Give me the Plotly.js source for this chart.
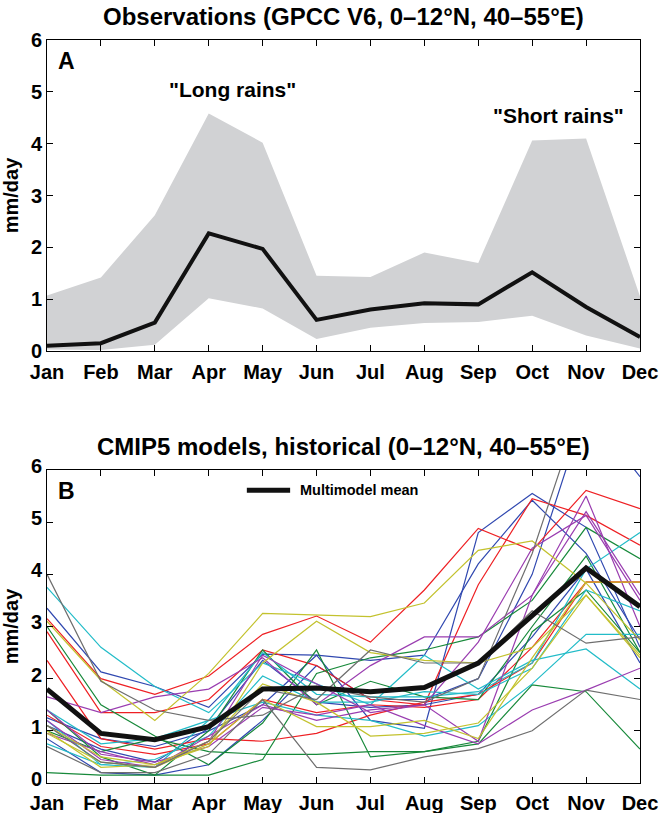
<!DOCTYPE html>
<html>
<head>
<meta charset="utf-8">
<script src="https://cdn.plot.ly/plotly-3.0.1.min.js"></script>
<style>
  html, body { margin: 0; padding: 0; background: #fff; }
  #chart { width: 660px; height: 813px; }
</style>
</head>
<body>
<div id="chart"></div>
<script>
const months = ['Jan', 'Feb', 'Mar', 'Apr', 'May', 'Jun', 'Jul', 'Aug', 'Sep', 'Oct', 'Nov', 'Dec'];

// panel A: GPCC observations
const obsMean  = [0.10, 0.15, 0.55, 2.27, 1.97, 0.60, 0.80, 0.92, 0.90, 1.52, 0.85, 0.27];
const obsUpper = [1.07, 1.42, 2.62, 4.58, 4.02, 1.45, 1.43, 1.90, 1.70, 4.06, 4.10, 1.05];
const obsLower = [0.03, 0.02, 0.12, 1.02, 0.82, 0.23, 0.45, 0.54, 0.56, 0.68, 0.30, 0.05];

// panel B: CMIP5 historical runs, grouped by line colour
const blueRuns = [
  [3.35, 2.13, 1.85, 1.45, 2.47, 2.45, 2.35, 2.45, 4.20, 5.42, 4.40, 2.75],
  [1.25, 0.85, 0.70, 1.00, 1.50, 2.45, 1.20, 1.05, 4.80, 5.55, 4.90, 2.60],
  [0.85, 0.20, 0.15, 0.35, 1.20, 2.25, 1.60, 1.60, 2.00, 4.00, 7.20, 5.87],
  [1.10, 0.65, 0.40, 1.05, 2.35, 1.55, 1.45, 1.50, 1.70, 2.80, 4.10, 2.30]
];
const redRuns = [
  [3.15, 2.00, 1.70, 2.05, 2.85, 3.20, 2.70, 3.70, 4.88, 4.46, 5.61, 5.26],
  [2.90, 1.35, 1.35, 1.60, 2.55, 2.25, 1.60, 1.50, 3.80, 5.45, 5.13, 4.56],
  [2.35, 0.85, 0.65, 0.85, 0.80, 0.95, 1.30, 1.55, 1.70, 2.30, 3.85, 3.85],
  [1.30, 0.70, 0.55, 0.75, 1.60, 1.35, 1.50, 1.45, 1.60, 2.60, 3.85, 3.85]
];
const greenRuns = [
  [3.00, 1.50, 0.90, 0.35, 1.15, 2.55, 0.50, 0.60, 0.80, 2.90, 3.70, 2.50],
  [1.40, 0.50, 0.15, 1.00, 2.55, 1.50, 1.95, 1.65, 1.60, 3.00, 4.35, 2.50],
  [0.20, 0.15, 0.15, 0.15, 0.45, 2.10, 2.40, 2.55, 2.80, 3.50, 4.90, 4.30],
  [1.00, 0.60, 0.85, 0.60, 0.55, 0.55, 0.60, 0.60, 0.75, 1.88, 1.75, 0.65]
];
const cyanRuns = [
  [3.75, 2.60, 1.85, 1.35, 2.30, 1.90, 1.50, 2.45, 1.80, 2.35, 2.57, 1.80],
  [1.40, 0.75, 0.85, 1.20, 2.50, 1.70, 1.65, 1.65, 1.75, 2.30, 4.10, 4.80],
  [1.20, 0.35, 0.30, 1.20, 1.55, 1.30, 1.20, 0.90, 1.10, 1.90, 2.85, 2.85],
  [0.75, 0.35, 0.45, 0.90, 2.05, 1.55, 1.55, 1.75, 1.70, 2.20, 3.70, 3.30]
];
const purpleRuns = [
  [1.65, 1.35, 1.65, 1.80, 2.40, 1.50, 2.25, 2.80, 2.80, 3.60, 5.50, 3.00],
  [1.40, 0.55, 0.40, 0.70, 1.45, 1.30, 1.50, 1.10, 0.75, 1.40, 1.78, 2.20],
  [0.95, 0.60, 0.35, 0.80, 2.45, 1.90, 1.35, 1.50, 2.70, 4.50, 5.13, 3.50],
  [1.20, 0.45, 0.30, 0.90, 1.50, 1.20, 1.40, 1.50, 0.80, 3.60, 5.20, 3.60]
];
const yellowRuns = [
  [3.10, 1.97, 1.20, 2.10, 3.25, 3.22, 3.19, 3.45, 4.46, 4.64, 3.83, 2.74],
  [1.00, 0.30, 0.35, 0.70, 2.30, 3.10, 2.50, 2.35, 2.30, 2.60, 3.60, 2.40],
  [0.95, 0.40, 0.30, 0.75, 1.60, 1.08, 1.08, 1.20, 0.85, 2.40, 3.85, 3.85],
  [1.10, 0.50, 0.35, 0.80, 1.90, 1.55, 0.90, 0.95, 1.15, 2.20, 3.60, 2.45]
];
const grayRuns = [
  [4.00, 1.95, 1.40, 1.20, 1.30, 1.85, 1.65, 1.55, 2.00, 4.40, 7.50, 7.00],
  [0.70, 0.20, 0.20, 0.55, 1.60, 0.30, 0.25, 0.50, 0.66, 1.00, 1.78, 1.60],
  [1.10, 0.40, 0.30, 0.80, 1.80, 1.60, 2.55, 2.30, 2.30, 3.30, 2.68, 2.80]
];
const modelMean = [1.80, 0.95, 0.83, 1.08, 1.80, 1.82, 1.75, 1.83, 2.30, 3.20, 4.12, 3.38];

const runColours = [
  [blueRuns, '#3048b0'],
  [redRuns, '#ee2024'],
  [greenRuns, '#17893a'],
  [cyanRuns, '#22bcc8'],
  [purpleRuns, '#9a3db0'],
  [yellowRuns, '#c3c22e'],
  [grayRuns, '#6e6e6e']
];

const fontFam = '"Liberation Sans", Arial, sans-serif';

const traces = [];

// observed spread (grey band) then mean
traces.push({
  x: months, y: obsLower, xaxis: 'x', yaxis: 'y',
  mode: 'lines', line: {width: 0, color: 'rgba(0,0,0,0)'},
  showlegend: false, hoverinfo: 'skip'
});
traces.push({
  x: months, y: obsUpper, xaxis: 'x', yaxis: 'y',
  mode: 'lines', line: {width: 0, color: 'rgba(0,0,0,0)'},
  fill: 'tonexty', fillcolor: '#d1d2d4',
  showlegend: false, hoverinfo: 'skip'
});
traces.push({
  x: months, y: obsMean, xaxis: 'x', yaxis: 'y',
  mode: 'lines', line: {width: 4, color: '#111'},
  showlegend: false
});

// model runs
runColours.forEach(function (pair) {
  pair[0].forEach(function (run) {
    traces.push({
      x: months, y: run, xaxis: 'x2', yaxis: 'y2',
      mode: 'lines', line: {width: 1.2, color: pair[1]},
      showlegend: false
    });
  });
});

traces.push({
  x: months, y: modelMean, xaxis: 'x2', yaxis: 'y2',
  mode: 'lines', line: {width: 5, color: '#111'},
  name: 'Multimodel mean', showlegend: false
});

const tickFont = {family: fontFam, size: 20, color: '#000', weight: 'bold'};

function xAxis(anchor, standoff) {
  return {
    anchor: anchor, domain: [0, 1],
    type: 'category', range: [0, 11],
    showline: true, mirror: 'ticks', linecolor: '#000', linewidth: 1,
    ticks: 'inside', ticklen: 6, tickcolor: '#000',
    showgrid: false, zeroline: false,
    tickfont: tickFont, automargin: false, ticklabelstandoff: standoff
  };
}
function yAxis(anchor, domain, shift) {
  return {
    anchor: anchor, domain: domain,
    range: [0, 6], dtick: 1,
    showline: true, mirror: 'ticks', linecolor: '#000', linewidth: 1,
    ticks: 'inside', ticklen: 6, tickcolor: '#000',
    showgrid: false, zeroline: false,
    tickfont: tickFont, automargin: false, ticklabelshift: shift,
    title: {text: 'mm/day', font: {family: fontFam, size: 20, color: '#000', weight: 'bold'}, standoff: 8}
  };
}

const layout = {
  width: 660, height: 813,
  margin: {l: 47, r: 20, t: 40, b: 30},
  paper_bgcolor: '#fff', plot_bgcolor: '#fff',
  font: {family: fontFam, color: '#000'},
  xaxis: xAxis('y', 3),
  yaxis: yAxis('x', [0.5814, 1], 0),
  xaxis2: xAxis('y2', 2),
  yaxis2: yAxis('x2', [0, 0.4213], -4),
  showlegend: false,
  // legend swatch for the multimodel mean
  shapes: [
    {type: 'line', xref: 'paper', yref: 'paper', x0: 0.337, x1: 0.41, y0: 0.394, y1: 0.394,
     line: {color: '#111', width: 5}}
  ],
  annotations: [
    {text: 'Observations (GPCC V6, 0\u201312\u00b0N, 40\u201355\u00b0E)', xref: 'paper', yref: 'paper',
     x: 0.5, y: 1, yshift: 24, showarrow: false, xanchor: 'center', yanchor: 'middle',
     font: {family: fontFam, size: 24, weight: 'bold', color: '#000'}},
    {text: 'CMIP5 models, historical (0\u201312\u00b0N, 40\u201355\u00b0E)', xref: 'paper', yref: 'paper',
     x: 0.5, y: 0.4213, yshift: 23, showarrow: false, xanchor: 'center', yanchor: 'middle',
     font: {family: fontFam, size: 24, weight: 'bold', color: '#000'}},
    {text: 'A', xref: 'x', yref: 'y', x: 0.37, y: 5.6, showarrow: false,
     font: {family: fontFam, size: 23, weight: 'bold', color: '#000'}},
    {text: '"Long rains"', xref: 'x', yref: 'y', x: 3.45, y: 5.05, showarrow: false,
     font: {family: fontFam, size: 21, weight: 'bold', color: '#000'}},
    {text: '"Short rains"', xref: 'x', yref: 'y', x: 9.48, y: 4.55, showarrow: false,
     font: {family: fontFam, size: 21, weight: 'bold', color: '#000'}},
    {text: 'B', xref: 'x2', yref: 'y2', x: 0.37, y: 5.6, showarrow: false,
     font: {family: fontFam, size: 23, weight: 'bold', color: '#000'}},
    {text: 'Multimodel mean', xref: 'paper', yref: 'paper', x: 0.423, y: 0.394,
     xanchor: 'left', yanchor: 'middle', showarrow: false,
     font: {family: fontFam, size: 14.5, weight: 'bold', color: '#000'}}
  ]
};

Plotly.newPlot('chart', traces, layout, {displayModeBar: false, staticPlot: true});
</script>
</body>
</html>
